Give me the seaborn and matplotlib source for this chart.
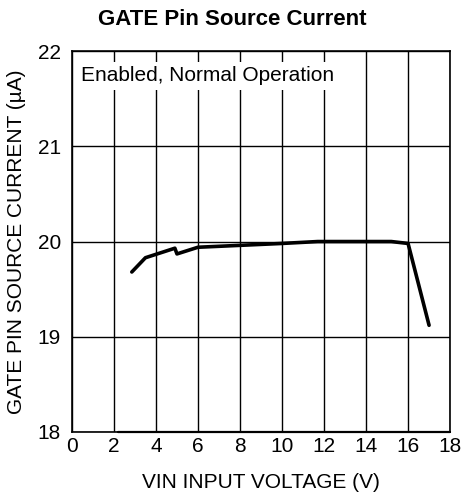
import matplotlib
matplotlib.use("Agg")
import matplotlib.pyplot as plt
import seaborn as sns
import pandas as pd

# Werte
vin = [2.85, 3.5, 4.9, 5.0, 6.0, 8.0, 10.0, 11.7, 15.2, 16.0, 17.0]
i_gate = [19.68, 19.83, 19.93, 19.87, 19.94, 19.96, 19.98, 20.0, 20.0, 19.98, 19.12]

# Abgeschnittener Verlauf am unteren Rand
vin_low = [2.2, 18.0]
i_low = [18.0, 18.0]

x_ticks = list(range(0, 19, 2))
y_ticks = [18, 19, 20, 21, 22]

df = pd.DataFrame({"vin": vin, "i": i_gate})
df_low = pd.DataFrame({"vin": vin_low, "i": i_low})

sns.set_theme(style="white")
plt.rcParams["font.family"] = ["Liberation Sans", "DejaVu Sans"]

fig = plt.figure(figsize=(4.64, 4.97), dpi=100)
ax = fig.add_axes([0.155, 0.131, 0.815, 0.766])

sns.lineplot(data=df, x="vin", y="i", color="black", linewidth=2.6, ax=ax, zorder=4)
sns.lineplot(data=df_low, x="vin", y="i", color="black", linewidth=1.6, ax=ax,
             zorder=4, clip_on=False)

ax.set_xlim(0, 18)
ax.set_ylim(18, 22)
ax.set_xticks(x_ticks)
ax.set_yticks(y_ticks)
ax.tick_params(axis="y", length=0, labelsize=15, colors="black", pad=8)
ax.tick_params(axis="x", length=0, labelsize=15, colors="black", pad=4)
ax.grid(True, color="black", linewidth=1.0)
ax.set_axisbelow(True)
for s in ax.spines.values():
    s.set_color("black")
    s.set_linewidth(1.2)

ax.set_xlabel("VIN INPUT VOLTAGE (V)", fontsize=15, color="black", labelpad=12)
ax.set_ylabel("GATE PIN SOURCE CURRENT (\u00b5A)", fontsize=15, color="black", labelpad=8)
fig.text(0.5, 0.96, "GATE Pin Source Current", ha="center", va="center",
         fontsize=16, fontweight="bold", color="black")

ax.text(0.45, 21.74, "Enabled, Normal Operation", fontsize=15, color="black",
        va="center", ha="left", zorder=5,
        bbox=dict(facecolor="white", edgecolor="none", pad=3))

fig.savefig("out.png", dpi=100)
